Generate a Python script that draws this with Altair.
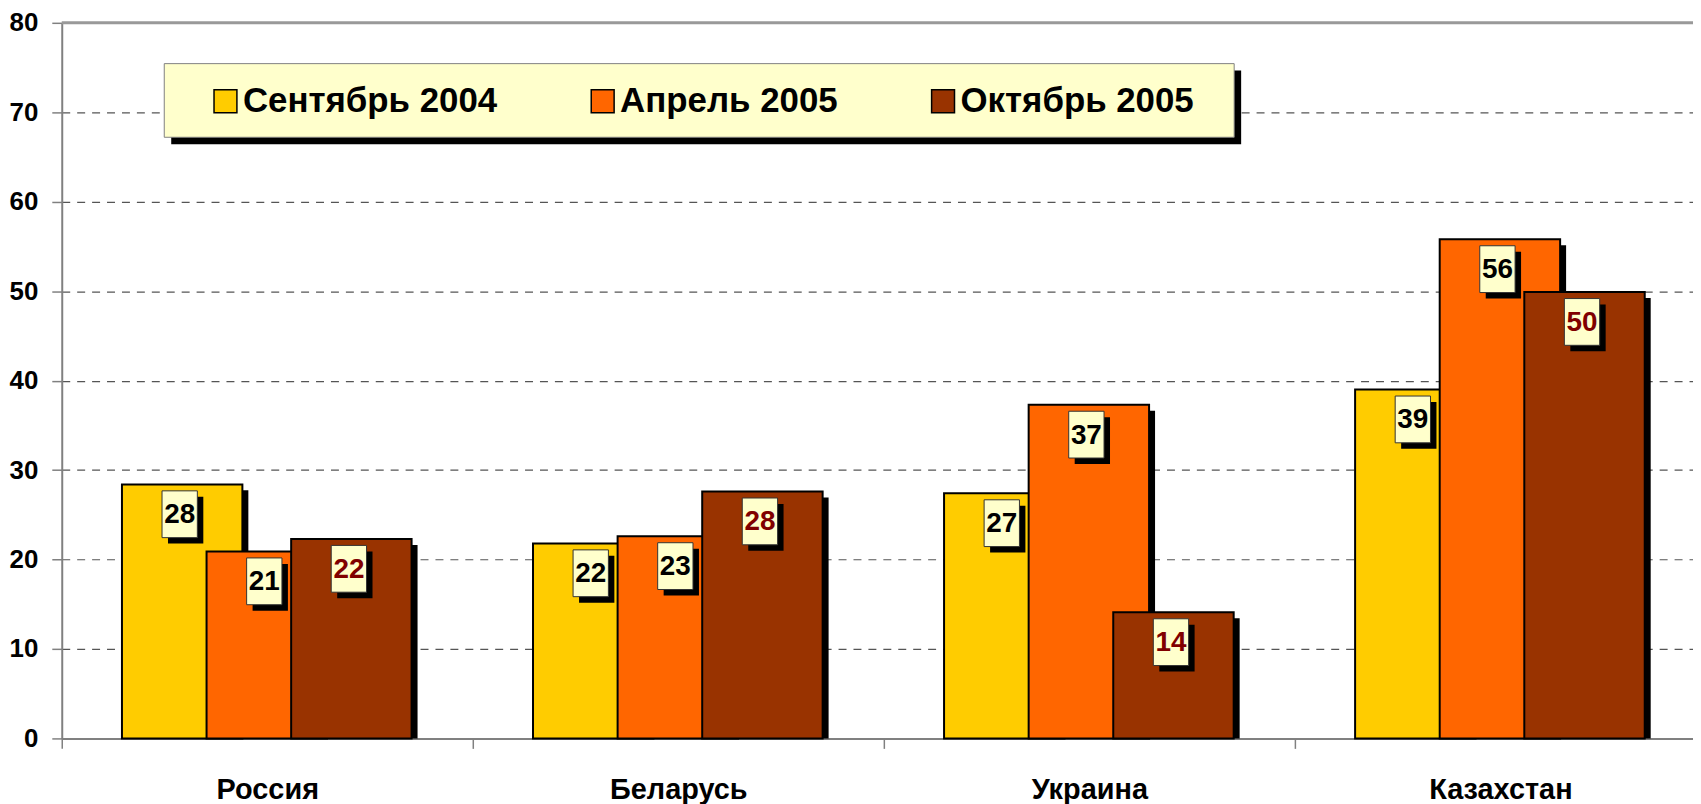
import altair as alt
import pandas as pd

countries = ["Россия", "Беларусь", "Украина", "Казахстан"]
series = ["Сентябрь 2004", "Апрель 2005", "Октябрь 2005"]
sep_2004 = [28.4, 21.8, 27.4, 39.0]
apr_2005 = [20.9, 22.6, 37.3, 55.8]
oct_2005 = [22.3, 27.6, 14.1, 49.9]
colors = ["#FFCC00", "#FF6600", "#993300"]
y_ticks = [0, 10, 20, 30, 40, 50, 60, 70, 80]

rows = []
for name, vals in zip(series, [sep_2004, apr_2005, oct_2005]):
    for c, v in zip(countries, vals):
        rows.append({"country": c, "series": name, "value": v})
df = pd.DataFrame(rows)

FONT = "Liberation Sans"
AX_GRAY = "#808080"

x_enc = alt.X(
    "country:N",
    sort=countries,
    scale=alt.Scale(range=[0, 1652], paddingInner=0, paddingOuter=0),
    axis=alt.Axis(
        title=None, labelAngle=0, tickBand="extent", tickSize=10, tickColor=AX_GRAY,
        tickWidth=1.5, domainColor=AX_GRAY, domainWidth=2, labelPadding=27,
        labelFont=FONT, labelFontSize=29, labelFontWeight="bold", labelColor="black",
        grid=False,
    ),
)
y_enc = alt.Y(
    "value:Q",
    scale=alt.Scale(domain=[0, 80], nice=False),
    axis=alt.Axis(
        title=None, values=y_ticks, tickSize=10, tickColor=AX_GRAY, tickWidth=1.5,
        domainColor=AX_GRAY, domainWidth=2, labelPadding=14,
        labelFont=FONT, labelFontSize=26, labelFontWeight="bold", labelColor="black",
        grid=True, gridColor="#555555", gridDash=[8, 7], gridWidth=1.2,
    ),
)


def base_with_shift(shift):
    xo = alt.XOffset(
        "series:N", sort=series,
        scale=alt.Scale(type="band", range=[78.5 + shift, 333.5 + shift],
                        paddingInner=0, paddingOuter=0),
    )
    return alt.Chart(df).encode(x=x_enc, xOffset=xo, y=y_enc)


top_rule = alt.Chart(alt.Data(values=[{}])).mark_rule(
    color="#999999", strokeWidth=3
).encode(y=alt.datum(80))

legend_shadow = alt.Chart(alt.Data(values=[{}])).mark_rect(color="black").encode(
    x=alt.value(110), x2=alt.value(1185), y=alt.value(48), y2=alt.value(122)
)
legend_box = alt.Chart(alt.Data(values=[{}])).mark_rect(
    fill="#FFFFCC", stroke="#808080", strokeWidth=1
).encode(
    x=alt.value(103), x2=alt.value(1178), y=alt.value(41), y2=alt.value(115)
)

bar_shadow = base_with_shift(6).mark_bar(width=121, color="black", yOffset=6).encode(
    y2=alt.datum(0)
)

bars = base_with_shift(0).mark_bar(width=121, stroke="black", strokeWidth=2).encode(
    color=alt.Color(
        "series:N", sort=series,
        scale=alt.Scale(domain=series, range=colors),
        legend=alt.Legend(
            title=None, orient="none", legendX=147, legendY=61,
            direction="horizontal", columns=3, symbolType="square", symbolSize=529,
            symbolStrokeColor="black", symbolStrokeWidth=1.5, symbolOpacity=1,
            labelFont=FONT, labelFontSize=35, labelFontWeight="bold",
            labelColor="black", labelOffset=0, columnPadding=88, padding=0,
            labelLimit=500,
        ),
    )
)

BOX = "M-0.755,-1H0.755V1H-0.755Z"
box_shadow = base_with_shift(3.5).mark_point(
    shape=BOX, size=2209, filled=True, color="black", opacity=1, yOffset=36,
)
box = base_with_shift(-2.5).mark_point(
    shape=BOX, size=2209, filled=True, fill="#FFFFCC", stroke="#333333",
    strokeWidth=1, opacity=1, yOffset=30,
)
labels = base_with_shift(-2.5).mark_text(
    font=FONT, fontSize=28, fontWeight="bold", baseline="middle", align="center",
    dy=31,
).encode(
    text=alt.Text("value:Q", format=".0f"),
    color=alt.condition(
        alt.datum.series == "Октябрь 2005", alt.value("#800000"), alt.value("black")
    ),
)

chart = alt.layer(
    top_rule, legend_shadow, legend_box, bar_shadow, bars, box_shadow, box, labels
).resolve_scale(
    xOffset="independent"
).properties(
    width=1639, height=719,
    autosize=alt.AutoSizeParams(type="none"),
    padding={"left": 54, "top": 13, "right": 0, "bottom": 64},
    background="white",
).configure_view(stroke=None)

chart.save("out.html", embed_options={"renderer": "svg", "actions": False})
